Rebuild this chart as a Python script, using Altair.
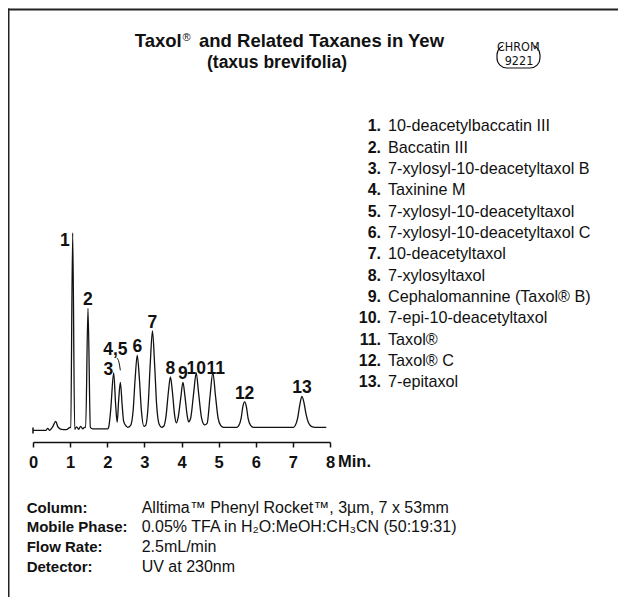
import altair as alt
import pandas as pd

# ---------------- data ----------------
# chromatogram trace: time (min) and detector signal (arbitrary units)
trace_t = [0.00, 0.35, 0.396, 0.45, 0.495, 0.538, 0.611, 0.673, 0.765, 0.899, 0.988,
           1.015, 1.069, 1.123, 1.177, 1.230, 1.284, 1.338, 1.392,
           1.419, 1.481, 1.545, 1.607, 2.011,
           2.038, 2.092, 2.173, 2.227, 2.267,
           2.307, 2.353, 2.402, 2.442, 2.515, 2.550,
           2.631, 2.698, 2.752, 2.808, 2.865, 2.919, 2.989,
           3.035, 3.102, 3.156, 3.218, 3.277, 3.331, 3.398, 3.465,
           3.521, 3.586, 3.646, 3.702, 3.756, 3.815, 3.861,
           3.910, 3.985, 4.039, 4.093, 4.152, 4.192,
           4.246, 4.327, 4.397, 4.461, 4.542, 4.622,
           4.690, 4.771, 4.844, 4.914, 4.987, 5.054, 5.135,
           5.485, 5.538, 5.606, 5.654, 5.700, 5.746, 5.794, 5.861, 5.942,
           7.019, 7.059, 7.127, 7.189, 7.243, 7.297, 7.356, 7.415, 7.496, 7.604, 7.900]
trace_s = [-1.7, -1.7, 0.3, -1.7, 0.0, 2.3, 7.3, 1.6, -0.7, -1.0, 1.0,
           1.3, 195.6, -0.7, 1.8, -0.7, 2.3, -0.2, 1.3,
           1.3, 120.3, 1.3, -0.2, -0.2,
           1.3, 18.3, 55.6, 23.3, 6.3,
           28.3, 46.3, 23.3, 7.3, 2.3, 1.3,
           3.3, 18.3, 50.3, 73.3, 50.3, 18.3, 2.3,
           3.3, 23.3, 63.3, 97.6, 63.3, 23.3, 4.3, 1.3,
           2.3, 13.3, 36.3, 51.6, 36.3, 13.3, 5.8,
           11.3, 32.3, 46.3, 32.3, 13.3, 6.8,
           10.3, 35.3, 55.8, 35.3, 10.3, 3.8,
           5.3, 33.3, 56.3, 33.3, 10.3, 3.3, 1.3,
           1.3, 2.8, 10.3, 22.3, 26.8, 22.3, 10.3, 3.3, 1.3,
           1.3, 2.8, 10.3, 24.3, 32.3, 26.3, 14.3, 6.3, 2.3, 1.3, 1.3]

peak_labels = ["1", "2", "3", "4,5", "6", "7", "8", "9", "10", "11", "12", "13"]
peak_t = [1.069, 1.481, 2.173, 2.353, 2.808, 3.218, 3.702, 4.039, 4.397, 4.844, 5.700, 7.243]
peak_s = [195.6, 120.3, 55.6, 46.3, 73.3, 97.6, 51.6, 46.3, 55.8, 56.3, 26.8, 32.3]

# leader line from the "4,5" label to its peak
leader_t = [2.262, 2.316, 2.353]
leader_s = [70.6, 66.3, 58.3]

compound_nums = ["1.", "2.", "3.", "4.", "5.", "6.", "7.", "8.", "9.", "10.", "11.", "12.", "13."]
compound_names = ["10-deacetylbaccatin III", "Baccatin III", "7-xylosyl-10-deacetyltaxol B",
                  "Taxinine M", "7-xylosyl-10-deacetyltaxol", "7-xylosyl-10-deacetyltaxol C",
                  "10-deacetyltaxol", "7-xylosyltaxol", "Cephalomannine (Taxol® B)",
                  "7-epi-10-deacetyltaxol", "Taxol®", "Taxol® C", "7-epitaxol"]

cond_labels = ["Column:", "Mobile Phase:", "Flow Rate:", "Detector:"]
cond_values = ["Alltima™ Phenyl Rocket™, 3µm, 7 x 53mm",
               "0.05% TFA in H₂O:MeOH:CH₃CN (50:19:31)",
               "2.5mL/min",
               "UV at 230nm"]

x_ticks = [0, 1, 2, 3, 4, 5, 6, 7, 8]

# ---------------- styling ----------------
W, H = 297, 220
BOLD = "Liberation Sans, Arial, Helvetica, sans-serif"
SANS = "Liberation Sans, Arial, Helvetica, sans-serif"
COND = "DejaVu Sans Condensed, Liberation Sans, sans-serif"
INK = "#111111"

xs = alt.Scale(domain=[0, 8], nice=False, zero=False)
ys = alt.Scale(domain=[-13.4, 206.6], nice=False, zero=False)

trace_df = pd.DataFrame({"t": trace_t, "s": trace_s})
peaks_df = pd.DataFrame({"label": peak_labels, "t": peak_t, "s": peak_s})
leader_df = pd.DataFrame({"t": leader_t, "s": leader_s})
comp_df = pd.DataFrame({"num": compound_nums, "name": compound_names,
                        "row": list(range(1, len(compound_nums) + 1))})
cond_df = pd.DataFrame({"label": cond_labels, "value": cond_values,
                        "row": list(range(1, len(cond_labels) + 1))})

x_axis = alt.Axis(values=x_ticks, title=None, grid=False, format="d", labelOverlap=False,
                  labelFlush=False)
x_enc = alt.X("t:Q", scale=xs, axis=x_axis)

line = alt.Chart(trace_df).mark_line(color=INK, strokeWidth=1.3, interpolate="monotone").encode(
    x=x_enc, y=alt.Y("s:Q", scale=ys, axis=None),
)

start_df = trace_df.head(1).assign(s1=lambda d: d.s - 3.3, s2=lambda d: d.s + 2.7)
start_bar = alt.Chart(start_df).mark_rule(color=INK, strokeWidth=1.5).encode(
    x=x_enc, y=alt.Y("s1:Q", scale=ys, axis=None), y2="s2:Q")

leader = alt.Chart(leader_df).mark_line(color=INK, strokeWidth=1, interpolate="monotone").encode(
    x=x_enc, y=alt.Y("s:Q", scale=ys, axis=None))

lab_kw = dict(font=BOLD, fontWeight="bold", fontSize=17.5, color=INK, baseline="alphabetic")
base_lab = alt.Chart(peaks_df).encode(x=x_enc, y=alt.Y("s:Q", scale=ys, axis=None),
                                      text="label:N")
lab_center = base_lab.transform_filter(
    "indexof(['1', '3', '4,5', '10', '11'], datum.label) < 0"
).mark_text(align="center", dy=-3, **lab_kw)
lab_1 = base_lab.transform_filter("datum.label == '1'").mark_text(align="right", dx=-3, dy=13, **lab_kw)
lab_3 = base_lab.transform_filter("datum.label == '3'").mark_text(align="right", dx=-0.5, dy=2, **lab_kw)
lab_45 = base_lab.transform_filter("datum.label == '4,5'").mark_text(align="center", dx=-5, dy=-27, **lab_kw)
lab_10 = base_lab.transform_filter("datum.label == '10'").mark_text(align="center", dx=0, dy=1, **lab_kw)
lab_11 = base_lab.transform_filter("datum.label == '11'").mark_text(align="center", dx=3, dy=2, **lab_kw)

min_lab = alt.Chart(pd.DataFrame({"t": [x_ticks[-1]]})).mark_text(
    text="Min.", align="left", dx=8, baseline="alphabetic", font=BOLD, fontWeight="bold",
    fontSize=16.5, color=INK).encode(x=x_enc, y=alt.value(H + 24.7))

# compound legend
leg_scale = alt.Scale(domain=[1, 13], range=[-90.7, 165.3])
leg_num = alt.Chart(comp_df).mark_text(align="right", baseline="alphabetic", font=SANS,
                                       fontWeight="bold", fontSize=16, color=INK).encode(
    x=alt.value(348), y=alt.Y("row:Q", scale=leg_scale, axis=None), text="num:N")
leg_name = alt.Chart(comp_df).mark_text(align="left", baseline="alphabetic", font=SANS,
                                        fontSize=16.2, color=INK).encode(
    x=alt.value(355), y=alt.Y("row:Q", scale=leg_scale, axis=None), text="name:N")

# conditions block
cond_scale = alt.Scale(domain=[1, 4], range=[290.5, 349.6])
cond_lab = alt.Chart(cond_df).mark_text(align="left", baseline="alphabetic", font=BOLD,
                                        fontWeight="bold", fontSize=15, color=INK).encode(
    x=alt.value(-6.3), y=alt.Y("row:Q", scale=cond_scale, axis=None), text="label:N")
cond_val = alt.Chart(cond_df).mark_text(align="left", baseline="alphabetic", font=SANS,
                                        fontSize=16, color=INK).encode(
    x=alt.value(108.7), y=alt.Y("row:Q", scale=cond_scale, axis=None), text="value:N")

# title pieces
one = pd.DataFrame({"k": [0]})
t_kw = dict(font=BOLD, fontWeight="bold", fontSize=18.5, color=INK, baseline="alphabetic")
title_a = alt.Chart(one).mark_text(text="Taxol", align="right", **t_kw).encode(
    x=alt.value(148.7), y=alt.value(-175.3))
title_r = alt.Chart(one).mark_text(text="®", align="left", baseline="top", font=SANS,
                                   fontSize=11, color=INK).encode(x=alt.value(149.5), y=alt.value(-190.5))
title_b = alt.Chart(one).mark_text(text="and Related Taxanes in Yew", align="left", **t_kw).encode(
    x=alt.value(166), y=alt.value(-175.3))
title_c = alt.Chart(one).mark_text(text="(taxus brevifolia)", align="center",
                                   font=BOLD, fontWeight="bold", fontSize=17.5, color=INK,
                                   baseline="alphabetic").encode(
    x=alt.value(244), y=alt.value(-154))

# CHROM badge
badge = alt.Chart(one).mark_rect(fill="white", stroke=INK, strokeWidth=1.2, cornerRadius=10).encode(
    x=alt.value(464), x2=alt.value(507), y=alt.value(-177), y2=alt.value(-154))
badge_gap = alt.Chart(one).mark_rect(fill="white").encode(
    x=alt.value(470), x2=alt.value(501), y=alt.value(-180), y2=alt.value(-174))
badge_t1 = alt.Chart(one).mark_text(text="CHROM", align="center", baseline="alphabetic", font=COND,
                                    fontSize=12.5, color=INK).encode(x=alt.value(485.3), y=alt.value(-171.5))
badge_t2 = alt.Chart(one).mark_text(text="9221", align="center", baseline="alphabetic", font=COND,
                                    fontSize=12.5, color=INK).encode(x=alt.value(486), y=alt.value(-157.5))

# frame lines (top and left)
frame_top = alt.Chart(one).mark_rule(color="#222222", strokeWidth=2).encode(
    x=alt.value(-25), x2=alt.value(585), y=alt.value(-212.5))
frame_left = alt.Chart(one).mark_rule(color="#222222", strokeWidth=2).encode(
    x=alt.value(-24.5), y=alt.value(-213.5), y2=alt.value(380))

chart = alt.layer(
    frame_top, frame_left,
    line, start_bar, leader, lab_center, lab_1, lab_3, lab_45, lab_10, lab_11, min_lab,
    leg_num, leg_name, cond_lab, cond_val,
    title_a, title_r, title_b, title_c,
    badge, badge_gap, badge_t1, badge_t2,
).resolve_scale(y="independent").properties(
    width=W, height=H,
    padding={"left": 25, "top": 214, "right": 288, "bottom": 155},
    autosize=alt.AutoSizeParams(type="none"),
    background="white",
).configure_view(stroke=None).configure_axisX(
    domainColor=INK, domainWidth=1.5, tickColor=INK, tickWidth=1.5, tickSize=5,
    labelFont=BOLD, labelFontWeight="bold", labelFontSize=16.5, labelColor=INK,
    labelPadding=7, labelOverlap=False, labelFlush=False, grid=False,
)

chart.save("out.html", embed_options={"renderer": "svg", "actions": False})
